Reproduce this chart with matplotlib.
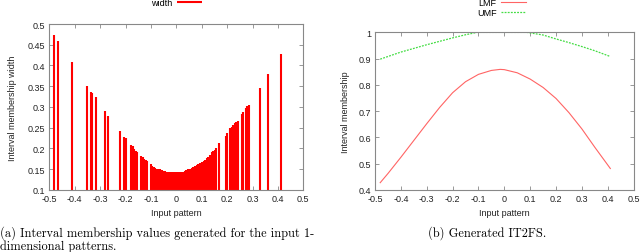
import matplotlib
matplotlib.use("Agg")
import matplotlib.pyplot as plt
import numpy as np

# ---- data ----
# (a) interval membership width for each 1-d input pattern
pattern_x = [-0.480, -0.465, -0.412, -0.350, -0.337, -0.330, -0.318, -0.281, -0.268,
             -0.220, -0.206, -0.199,
             -0.178, -0.172, -0.166, -0.160, -0.154,
             -0.138, -0.132, -0.126, -0.121, -0.116,
             -0.100, -0.094, -0.088, -0.082, -0.076, -0.070, -0.064, -0.058,
             -0.052, -0.046, -0.040, -0.034, -0.028, -0.022, -0.016, -0.010, -0.004,
             0.002, 0.008, 0.014, 0.019,
             0.026, 0.033, 0.040, 0.047, 0.054, 0.060, 0.066, 0.072,
             0.081, 0.087, 0.093,
             0.101, 0.107, 0.113, 0.119, 0.125, 0.131,
             0.140, 0.146, 0.152, 0.156, 0.168, 0.194, 0.200,
             0.212, 0.218, 0.224, 0.230, 0.236, 0.242,
             0.258, 0.262, 0.275, 0.280, 0.285,
             0.330, 0.362, 0.411]
width = [0.474, 0.460, 0.409, 0.350, 0.337, 0.333, 0.323, 0.291, 0.279,
         0.241, 0.227, 0.224,
         0.208, 0.205, 0.198, 0.194, 0.191,
         0.181, 0.178, 0.175, 0.172, 0.170,
         0.161, 0.158, 0.155, 0.153, 0.151, 0.150, 0.149, 0.148,
         0.146, 0.145, 0.144, 0.143, 0.143, 0.142, 0.142, 0.142, 0.142,
         0.142, 0.142, 0.143, 0.144,
         0.143, 0.145, 0.147, 0.149, 0.150, 0.152, 0.154, 0.158,
         0.160, 0.162, 0.164,
         0.167, 0.170, 0.173, 0.176, 0.180, 0.184,
         0.191, 0.194, 0.197, 0.201, 0.212, 0.230, 0.237,
         0.248, 0.251, 0.256, 0.260, 0.264, 0.267,
         0.284, 0.287, 0.298, 0.301, 0.304,
         0.345, 0.379, 0.428]

# (b) generated IT2FS: lower / upper membership functions
lmf_x = [-0.48, -0.45, -0.40, -0.35, -0.30, -0.25, -0.20, -0.15, -0.10, -0.05, -0.016,
         0.0, 0.05, 0.10, 0.15, 0.20, 0.25, 0.30, 0.35, 0.41]
lmf = [0.427, 0.462, 0.524, 0.588, 0.652, 0.714, 0.770, 0.812, 0.840, 0.855, 0.859,
       0.858, 0.846, 0.822, 0.790, 0.748, 0.694, 0.632, 0.562, 0.481]
umf_x = [-0.48, -0.40, -0.30, -0.20, -0.15, -0.106, -0.05, 0.0, 0.05, 0.088,
         0.15, 0.20, 0.25, 0.30, 0.35, 0.41]
umf = [0.898, 0.925, 0.953, 0.979, 0.991, 1.0, 1.0, 1.0, 1.0, 1.0,
       0.990, 0.975, 0.961, 0.946, 0.930, 0.908]

xticks = [-0.5, -0.4, -0.3, -0.2, -0.1, 0, 0.1, 0.2, 0.3, 0.4, 0.5]
xtick_labels = ["-0.5", "-0.4", "-0.3", "-0.2", "-0.1", "0", "0.1", "0.2", "0.3", "0.4", "0.5"]
yticks_a = [0.1, 0.15, 0.2, 0.25, 0.3, 0.35, 0.4, 0.45, 0.5]
ytick_labels_a = ["0.1", "0.15", "0.2", "0.25", "0.3", "0.35", "0.4", "0.45", "0.5"]
yticks_b = [0.4, 0.5, 0.6, 0.7, 0.8, 0.9, 1.0]
ytick_labels_b = ["0.4", "0.5", "0.6", "0.7", "0.8", "0.9", "1"]

plt.rcParams["font.family"] = ["Liberation Sans", "DejaVu Sans"]
fs = 6.5
txt_col = "#222222"
box_col = "#888888"


def gnuplot_box(ax):
    # grey box, inward ticks mirrored on all four sides
    for s in ax.spines.values():
        s.set_color(box_col)
        s.set_linewidth(0.8)
    ax.tick_params(direction="in", length=3, width=0.6, color=box_col,
                   top=True, right=True, labelsize=fs, labelcolor=txt_col, pad=3)


fig = plt.figure(figsize=(6.4, 2.53), dpi=100)

# ---- (a) bars ----
ax1 = fig.add_axes([0.077, 0.246, 0.397, 0.655])
ax1.vlines(pattern_x, 0.1, width, color="red", lw=1.5, label="width")
ax1.set_xlim(-0.5, 0.5)
ax1.set_ylim(0.1, 0.5)
ax1.set_xticks(xticks, xtick_labels)
ax1.set_yticks(yticks_a, ytick_labels_a)
ax1.set_xlabel("Input pattern", fontsize=fs, color=txt_col, labelpad=4)
ax1.set_ylabel("Interval membership width", fontsize=fs, color=txt_col, labelpad=8)
gnuplot_box(ax1)
ax1.legend(loc="upper center", bbox_to_anchor=(0.5, 1.19), frameon=False,
           markerfirst=False, fontsize=fs, handlelength=2.8, handletextpad=0.5,
           borderpad=0.1)

# ---- (b) LMF / UMF ----
ax2 = fig.add_axes([0.586, 0.246, 0.404, 0.622])
ax2.plot(lmf_x, lmf, color="#ff6464", lw=0.8, label="LMF")
ax2.plot(umf_x, umf, color="#44dd44", lw=0.9, ls=(0, (1.5, 1)), label="UMF")
ax2.set_xlim(-0.5, 0.5)
ax2.set_ylim(0.4, 1.0)
ax2.set_xticks(xticks, xtick_labels)
ax2.set_yticks(yticks_b, ytick_labels_b)
ax2.set_xlabel("Input pattern", fontsize=fs, color=txt_col, labelpad=4)
ax2.set_ylabel("Interval membership", fontsize=fs, color=txt_col, labelpad=6)
gnuplot_box(ax2)
ax2.legend(loc="upper center", bbox_to_anchor=(0.49, 1.25), frameon=False,
           markerfirst=False, fontsize=fs, handlelength=2.8, handletextpad=0.5,
           labelspacing=0.1, borderpad=0.1)

# captions underneath
cap = dict(family="cmr10", fontsize=8.9, color="black")
fig.text(0.0, 1 - 233 / 253, "(a) Interval membership values generated for the input 1-",
         va="center", ha="left", **cap)
fig.text(0.0, 1 - 246.5 / 253, "dimensional patterns.", va="center", ha="left", **cap)
fig.text(487 / 640, 1 - 233 / 253, "(b) Generated IT2FS.", va="center", ha="center", **cap)

fig.savefig("out.png", dpi=100)
